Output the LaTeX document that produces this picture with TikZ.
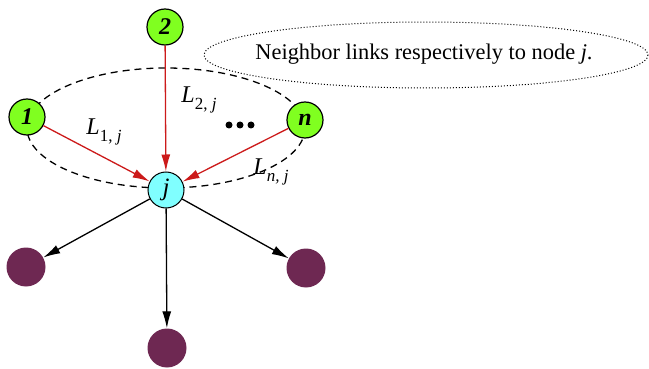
\documentclass[tikz,border=0pt]{standalone}
\usepackage{fontspec}
\setmainfont{Liberation Serif}
\usetikzlibrary{arrows.meta}
\definecolor{ngreen}{RGB}{128,255,32}
\definecolor{ncyan}{RGB}{128,255,255}
\definecolor{npurple}{RGB}{110,40,82}
\definecolor{nred}{RGB}{204,26,26}
\newcommand{\lsub}[1]{{\itshape L}\raisebox{-7pt}{\fontsize{17}{17}\selectfont #1}}
\begin{document}
\begin{tikzpicture}[x=1pt,y=-1pt,
  gnode/.style={circle,draw=black,line width=1.2pt,fill=ngreen,minimum size=36pt,inner sep=0pt,font=\fontsize{24}{24}\selectfont\bfseries\itshape},
  jnode/.style={circle,draw=black,line width=1pt,fill=ncyan,minimum size=36pt,inner sep=0pt,font=\fontsize{25}{25}\selectfont\itshape},
  pnode/.style={circle,fill=npurple,minimum size=39pt,inner sep=0pt},
  redarr/.style={draw=nred,line width=1.3pt,-{Latex[length=17pt,width=9pt]}},
  blkarr/.style={draw=black,line width=1.3pt,-{Latex[length=17pt,width=9pt]}},
  lbl/.style={font=\fontsize{24}{24}\selectfont,inner sep=0pt}
]
\useasboundingbox (0,0) rectangle (649,369);
\draw[dashed,line width=1.3pt,dash pattern=on 7pt off 5pt] (166,128) ellipse [x radius=139, y radius=60];
\draw[dotted,line width=1pt] (426,55) ellipse [x radius=222, y radius=33];
\node[font=\fontsize{22.4}{22.4}\selectfont] (txt) at (424,54) {Neighbor links respectively to node \textit{j}.};
\node[gnode] (n2) at (165,27) {2};
\node[gnode] (n1) at (27,117) {1};
\node[gnode] (nn) at (305,120) {n};
\node[jnode] (j) at (166,190) {j};
\node[pnode] (p1) at (26,267) {};
\node[pnode] (p2) at (167,348) {};
\node[pnode] (p3) at (306,268) {};
\draw[redarr] (n1) -- (j);
\draw[redarr] (n2) -- (j);
\draw[redarr] (nn) -- (j);
\draw[blkarr] (j) -- (p1);
\draw[blkarr] (j) -- (p2);
\draw[blkarr] (j) -- (p3);
\node[lbl] (l1) at (104,132) {\lsub{1, \itshape j}};
\node[lbl] (l2) at (199,100) {\lsub{2, \itshape j}};
\node[lbl] (ln) at (271,172) {\lsub{\itshape n, j}};
\fill (229,125) circle (3.5) (240,125) circle (3.5) (251,125) circle (3.5);
\end{tikzpicture}
\end{document}
